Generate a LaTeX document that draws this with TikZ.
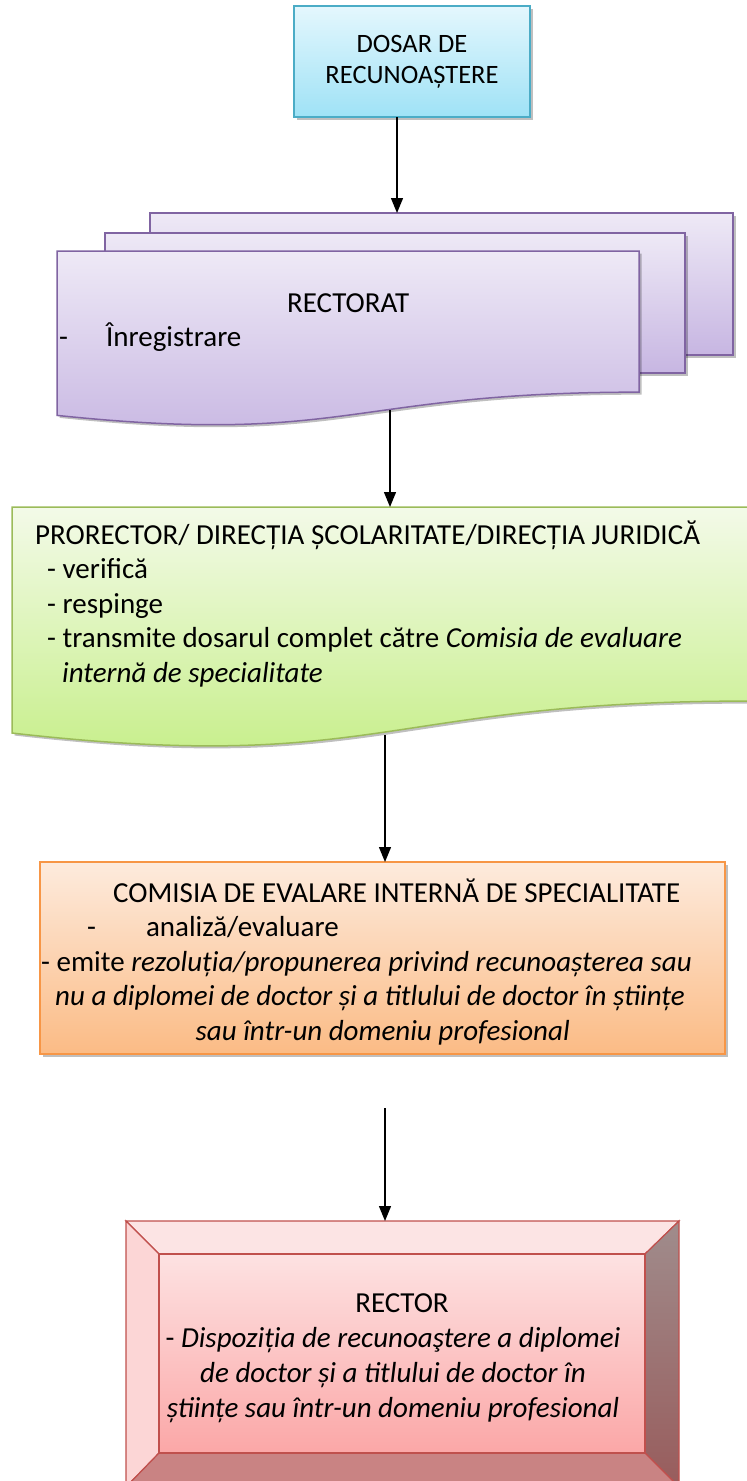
\documentclass[tikz,border=0pt]{standalone}
\usepackage{fontspec}
\setmainfont{Carlito}
\usetikzlibrary{arrows.meta,calc,shadows}

\definecolor{dosarline}{HTML}{4BACC6}
\definecolor{dosartop}{HTML}{E4F7FD}
\definecolor{dosarbot}{HTML}{9FE2F6}
\definecolor{sheetline}{HTML}{8064A2}
\definecolor{sheettop}{HTML}{EEE9F6}
\definecolor{sheetbot}{HTML}{C7B6E2}
\definecolor{verifline}{HTML}{9BBB59}
\definecolor{veriftop}{HTML}{F3FAE8}
\definecolor{verifbot}{HTML}{C4EE84}
\definecolor{comisline}{HTML}{F79646}
\definecolor{comistop}{HTML}{FDEBDD}
\definecolor{comisbot}{HTML}{FBBB85}
\definecolor{rectline}{HTML}{C0504D}
\definecolor{recttop}{HTML}{FDE2E2}
\definecolor{rectbot}{HTML}{FBA7A7}
\definecolor{beveltop}{HTML}{FCE4E4}
\definecolor{bevelleft}{HTML}{FCD6D6}
\definecolor{bevelbot}{HTML}{C98383}
\definecolor{bevelrtop}{HTML}{A08C8C}
\definecolor{bevelrbot}{HTML}{985C5C}

\tikzset{
  boxshadow/.style={drop shadow={shadow xshift=2.5pt,shadow yshift=-2.5pt,opacity=.25,fill=black}},
  flow/.style={line width=1.3pt,-{Triangle[length=15pt,width=12pt]}},
  frame/.style={inner sep=0pt,outer sep=0pt},
  dosarbox/.style={frame,draw=dosarline,line width=1.5pt,top color=dosartop,bottom color=dosarbot,boxshadow,align=center},
  sheet/.style={draw=sheetline,line width=1.5pt,top color=sheettop,bottom color=sheetbot,boxshadow},
  verif/.style={draw=verifline,line width=1.5pt,top color=veriftop,bottom color=verifbot,boxshadow},
  comisbox/.style={draw=comisline,line width=1.5pt,top color=comistop,bottom color=comisbot,boxshadow},
  face/.style={draw=rectline,line width=1.2pt},
  label/.style={inner sep=0pt,anchor=north west,align=left},
}

% document shape: flat top, wavy bottom, in the frame of a node
\newcommand{\docpath}[1]{(#1.north west) -- (#1.north east)
  -- ($(#1.north east)!0.802!(#1.south east)$)
  .. controls ($(#1.north)!0.802!(#1.south)$) and ($(#1.north)!1.107!(#1.south)$)
  .. ($(#1.north west)!0.934!(#1.south west)$) -- cycle}

\begin{document}
\begin{tikzpicture}[x=1pt,y=-1pt,font=\fontsize{29pt}{34.5pt}\selectfont]
  \useasboundingbox (0,0) rectangle (747,1481);

  \node[dosarbox,minimum width=236pt,minimum height=111pt,font=\fontsize{26.5pt}{31pt}\selectfont] (dosar) at (412,61.5) {DOSAR DE\\RECUNOAȘTERE};

  % rectorat (three sheets)
  \node[frame,sheet,minimum width=583pt,minimum height=142pt] (sheetc) at (441.5,284) {};
  \node[frame,sheet,minimum width=580pt,minimum height=140pt] (sheetb) at (395,303) {};
  \node[frame,minimum width=582pt,minimum height=176pt] (rectorat) at (348,339) {};
  \path[sheet] \docpath{rectorat};
  \node[label,text width=578pt] (rectorattext) at (59,288)
    {\centering\strut RECTORAT\par\raggedright -\hspace{38pt}Înregistrare};

  % prorector
  \node[frame,minimum width=736pt,minimum height=242pt] (prorector) at (380,628) {};
  \path[verif] \docpath{prorector};
  \node[label] (prorectortext) at (35,520)
    {\strut PRORECTOR/ DIRECȚIA ȘCOLARITATE/DIRECȚIA JURIDICĂ\\
     \hspace*{12pt}- verifică\\
     \hspace*{12pt}- respinge\\
     \hspace*{12pt}- transmite dosarul complet către \textit{Comisia de evaluare}\\
     \hspace*{27pt}\textit{internă de specialitate}};

  % comisia
  \node[frame,comisbox,minimum width=685pt,minimum height=192pt] (comisia) at (382.5,958) {};
  \node[label] (comisiatext) at (40,878)
    {\strut\hspace*{73pt}COMISIA DE EVALARE INTERNĂ DE SPECIALITATE\\
     \hspace*{47pt}-\hspace*{50pt}analiză/evaluare\\
     \hspace*{1pt}- emite \textit{rezoluția/propunerea privind recunoașterea sau}\\
     \hspace*{15pt}\textit{nu a diplomei de doctor și a titlului de doctor în științe}\\
     \makebox[685pt]{\textit{sau într-un domeniu profesional}}};

  % rector (bevel)
  \node[frame,minimum width=553pt,minimum height=266pt] (rector) at (402.5,1354) {};
  \node[frame,minimum width=486pt,minimum height=199pt] (rectorin) at (402,1353.5) {};
  \path[face,fill=beveltop] (rector.north west) -- (rector.north east) -- (rectorin.north east) -- (rectorin.north west) -- cycle;
  \path[face,fill=bevelleft] (rector.north west) -- (rectorin.north west) -- (rectorin.south west) -- (rector.south west) -- cycle;
  \path[face,top color=bevelrtop,bottom color=bevelrbot] (rector.north east) -- (rector.south east) -- (rectorin.south east) -- (rectorin.north east) -- cycle;
  \path[face,fill=bevelbot] (rector.south west) -- (rector.south east) -- (rectorin.south east) -- (rectorin.south west) -- cycle;
  \path[face,top color=recttop,bottom color=rectbot] (rectorin.north west) rectangle (rectorin.south east);
  \node[label,anchor=north,align=center,font=\fontsize{29pt}{35pt}\selectfont] (rectortext) at (393,1288)
    {\strut\hspace*{18pt}RECTOR\\
     - \textit{Dispoziția de recunoaştere a diplomei}\\
     \textit{de doctor și a titlului de doctor în}\\
     \textit{științe sau într-un domeniu profesional}};

  % connectors
  \coordinate (rectoratout) at (390,410);
  \coordinate (prorectorout) at (385,735);
  \coordinate (comisiaout) at (385,1108);

  \path[flow] (dosar.south -| 397,0) edge (397,0 |- sheetc.north);
  \path[flow] (rectoratout) edge (rectoratout |- prorector.north);
  \path[flow] (prorectorout) edge (prorectorout |- comisia.north);
  \path[flow] (comisiaout) edge (comisiaout |- rector.north);
\end{tikzpicture}
\end{document}
